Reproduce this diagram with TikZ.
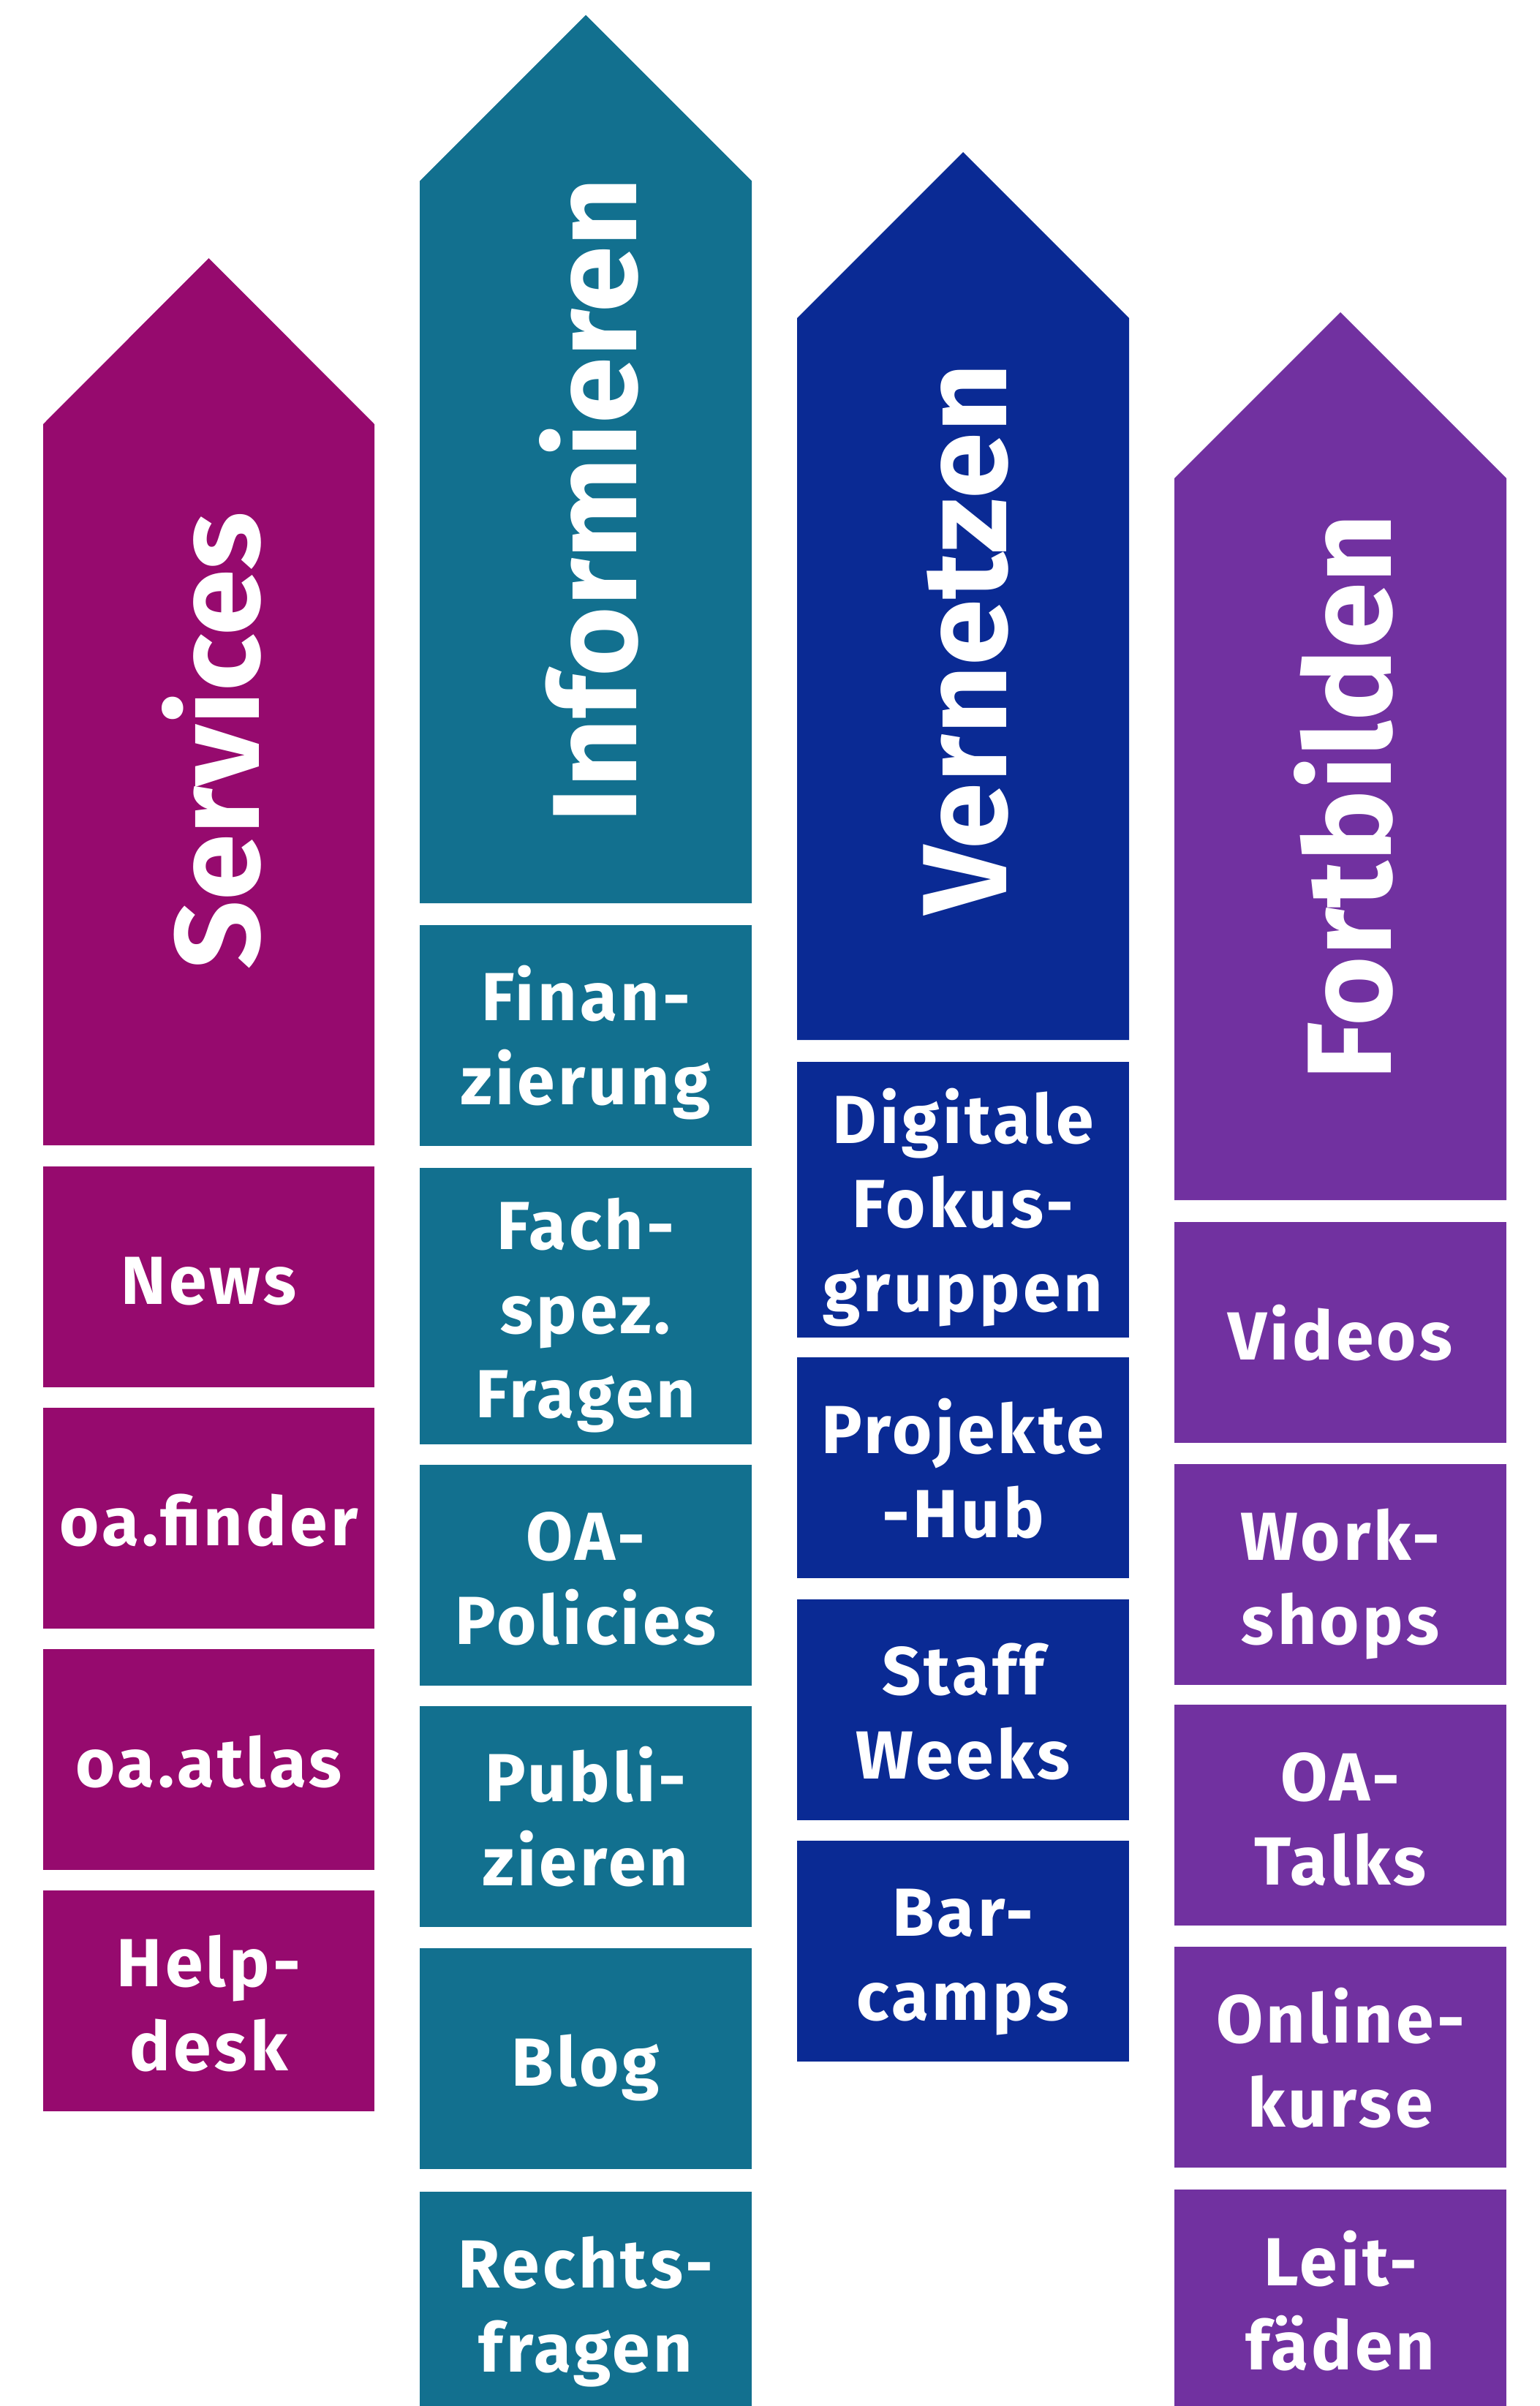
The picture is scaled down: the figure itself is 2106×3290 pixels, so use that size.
\documentclass[tikz,border=0pt]{standalone}
\usepackage{fontspec}
\setmainfont{Fira Sans}
\newfontfamily\boxfont{Fira Sans}[LetterSpace=4.5]

\definecolor{servcol}{HTML}{960A6E}
\definecolor{infocol}{HTML}{12708F}
\definecolor{netzcol}{HTML}{0A2A94}
\definecolor{fortcol}{HTML}{7131A0}

\begin{document}
\begin{tikzpicture}[x=1pt,y=-1pt]
   \tikzstyle{box} = [rectangle, minimum width=453.5pt, minimum height=302pt, inner sep=0pt, text=white, text width=453.5pt, align=center, font=\fontsize{93}{115}\boxfont\bfseries,
                      execute at begin node={\noindent\rule{0pt}{97pt}}, execute at end node={\rule[-22pt]{0pt}{22pt}}]
   \tikzstyle{title} = [rotate=90, inner sep=0pt, text=white, font=\fontsize{164}{164}\selectfont\bfseries]

  \useasboundingbox (0,0) rectangle (2106,3290);

  % arrow heads with titles
  \fill[servcol] (59,1566) -- (59,580) -- (285.5,353) -- (512,580) -- (512,1566) -- cycle;
  \fill[infocol] (574,1235) -- (574,247.5) -- (801,20.5) -- (1028,247.5) -- (1028,1235) -- cycle;
  \fill[netzcol] (1090,1422) -- (1090,435) -- (1317,208) -- (1544,435) -- (1544,1422) -- cycle;
  \fill[fortcol] (1606,1641) -- (1606,654) -- (1833,427) -- (2060,654) -- (2060,1641) -- cycle;

      \draw
        (289, 1013) node[title] (s){Services}
        (805, 684) node[title] (i){Informieren}
        (1321, 874) node[title] (v){Vernetzen}
        (1837, 1090) node[title] (f){Fortbilden};

  % boxes
      \draw
        (285.5, 1746) node[box, fill=servcol] (s1){News}
        (285.5, 2076) node[box, fill=servcol] (s2){oa.finder}
        (285.5, 2406) node[box, fill=servcol] (s3){oa.atlas}
        (285.5, 2736) node[box, fill=servcol] (s4){Help-\\desk};

      \draw
        (801, 1415.5) node[box, fill=infocol] (i1){Finan-\\zierung}
        (801, 1786) node[box, fill=infocol, minimum height=378pt] (i2){Fach-\\spez.\\Fragen}
        (801, 2153.5) node[box, fill=infocol] (i3){OA-\\Policies}
        (801, 2483.5) node[box, fill=infocol] (i4){Publi-\\zieren}
        (801, 2815) node[box, fill=infocol] (i5){Blog}
        (801, 3148) node[box, fill=infocol] (i6){Rechts-\\fragen};

      \draw
        (1317, 1640.5) node[box, fill=netzcol, minimum height=377pt] (v1){Digitale\\Fokus-\\gruppen}
        (1317, 2007) node[box, fill=netzcol] (v2){Projekte\\-Hub}
        (1317, 2337.5) node[box, fill=netzcol] (v3){Staff\\Weeks}
        (1317, 2667.5) node[box, fill=netzcol] (v4){Bar-\\camps};

      \draw
        (1833, 1822) node[box, fill=fortcol] (f1){Videos}
        (1833, 2153) node[box, fill=fortcol] (f2){Work-\\shops}
        (1833, 2482) node[box, fill=fortcol] (f3){OA-\\Talks}
        (1833, 2813) node[box, fill=fortcol] (f4){Online-\\kurse}
        (1833, 3145) node[box, fill=fortcol] (f5){Leit-\\fäden};
\end{tikzpicture}
\end{document}
